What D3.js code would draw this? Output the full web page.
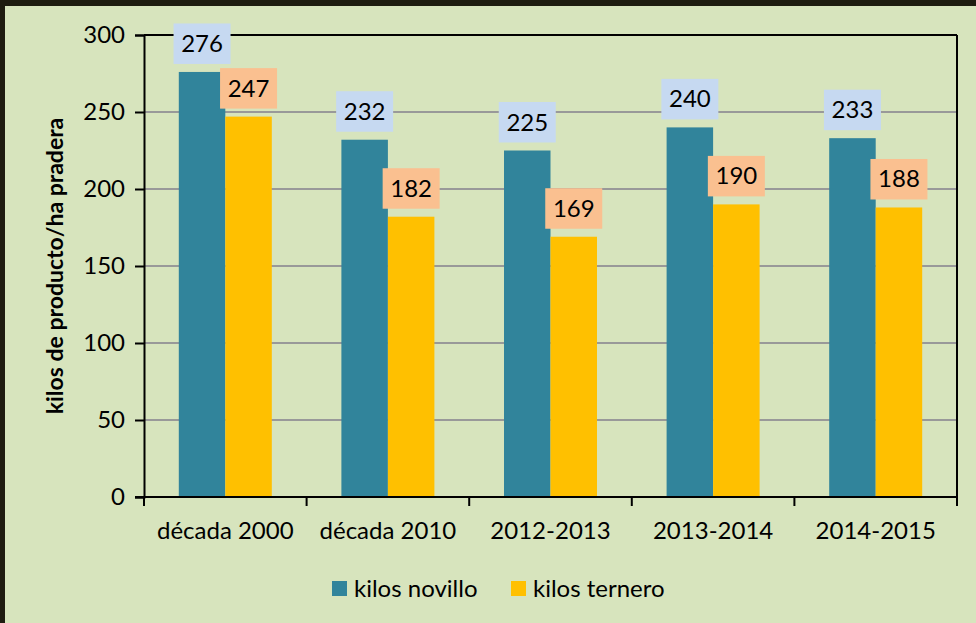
<!DOCTYPE html>
<html>
<head>
<meta charset="utf-8">
<script src="https://cdn.jsdelivr.net/npm/d3@7"></script>
<style>
  html, body { margin: 0; padding: 0; background: #d7e4bd; }
  svg { display: block; }
  text { font-family: Lato, "Open Sans", sans-serif; fill: #000; }
</style>
</head>
<body>
<svg id="chart" width="976" height="623"></svg>
<script>
// data
var categories = ["década 2000", "década 2010", "2012-2013", "2013-2014", "2014-2015"];
var seriesNames = ["kilos novillo", "kilos ternero"];
var novillo = [276, 232, 225, 240, 233];
var ternero = [247, 182, 169, 190, 188];
var yTicks = [0, 50, 100, 150, 200, 250, 300];

var colors = ["#31849b", "#ffc000"];
var labelFills = ["#c6d9f1", "#fac090"];

var svg = d3.select("#chart");
var W = 976, H = 623;

svg.append("rect").attr("width", W).attr("height", H).attr("fill", "#d7e4bd");
// dark frame only shows on top and left
svg.append("rect").attr("x", 0).attr("y", 0).attr("width", W).attr("height", 6).attr("fill", "#1e1c10");
svg.append("rect").attr("x", 0).attr("y", 0).attr("width", 5).attr("height", H).attr("fill", "#1e1c10");

var margin = {top: 35, right: 19, bottom: 126, left: 144};
var width = W - margin.left - margin.right;
var height = H - margin.top - margin.bottom;

var x = d3.scaleBand().domain(categories).range([0, width]).paddingInner(0).paddingOuter(0);
var x1 = d3.scaleBand().domain(seriesNames).range([0, 93]);
var y = d3.scaleLinear().domain([0, 300]).range([height, 0]);

var g = svg.append("g").attr("transform", "translate(" + margin.left + "," + margin.top + ")");

// gridlines
g.append("g").selectAll("line")
  .data(yTicks.filter(function(d) { return d > 0 && d < 300; }))
  .enter().append("line")
    .attr("x1", 0).attr("x2", width)
    .attr("y1", function(d) { return y(d); })
    .attr("y2", function(d) { return y(d); })
    .attr("stroke", "#999").attr("stroke-width", 2);

// plot frame top and right
g.append("line").attr("x1", 0).attr("x2", width).attr("y1", 0).attr("y2", 0)
  .attr("stroke", "#000").attr("stroke-width", 2);
g.append("line").attr("x1", width).attr("x2", width).attr("y1", 0).attr("y2", height)
  .attr("stroke", "#000").attr("stroke-width", 2);

var series = [novillo, ternero];
var rows = [];
categories.forEach(function(c, i) {
  seriesNames.forEach(function(s, j) {
    rows.push({cat: c, s: s, j: j, v: series[j][i]});
  });
});

function barX(d) {
  return x(d.cat) + (x.bandwidth() - 93) / 2 + x1(d.s);
}

g.append("g").selectAll("rect")
  .data(rows)
  .enter().append("rect")
    .attr("x", barX)
    .attr("y", function(d) { return y(d.v); })
    .attr("width", x1.bandwidth())
    .attr("height", function(d) { return height - y(d.v); })
    .attr("fill", function(d) { return colors[d.j]; });

// y axis
var yAxis = d3.axisLeft(y).tickValues(yTicks).tickSize(9).tickPadding(10);
var ya = g.append("g").call(yAxis);
ya.select(".domain").attr("stroke", "#000").attr("stroke-width", 2);
ya.selectAll(".tick line").attr("stroke", "#000").attr("stroke-width", 2);
ya.selectAll("text").style("font-size", "24px").style("fill", "#000");

// x axis, ticks at category boundaries
var xa = g.append("g").attr("transform", "translate(0," + height + ")");
xa.append("line").attr("x1", -9).attr("x2", width).attr("stroke", "#000").attr("stroke-width", 2);
xa.selectAll(".bt")
  .data(d3.range(categories.length + 1))
  .enter().append("line")
    .attr("x1", function(i) { return i * x.step(); })
    .attr("x2", function(i) { return i * x.step(); })
    .attr("y1", 0).attr("y2", 9)
    .attr("stroke", "#000").attr("stroke-width", 2);
xa.selectAll(".cl")
  .data(categories)
  .enter().append("text")
    .attr("x", function(d) { return x(d) + x.bandwidth() / 2; })
    .attr("y", 42)
    .attr("text-anchor", "middle")
    .style("font-size", "24px")
    .text(function(d) { return d; });

// data labels in boxes
var labels = g.append("g").selectAll("g")
  .data(rows)
  .enter().append("g")
    .attr("transform", function(d) {
      return "translate(" + (barX(d) + x1.bandwidth() / 2) + "," + (y(d.v) - 8) + ")";
    });
labels.append("rect")
  .attr("x", -28.5).attr("y", -40.5)
  .attr("width", 57).attr("height", 40.5)
  .attr("fill", function(d) { return labelFills[d.j]; });
labels.append("text")
  .attr("y", -12)
  .attr("text-anchor", "middle")
  .style("font-size", "24px")
  .text(function(d) { return d.v; });

// y axis title
svg.append("text")
  .attr("transform", "translate(63," + (margin.top + height / 2) + ") rotate(-90)")
  .attr("text-anchor", "middle")
  .style("font-size", "23px")
  .style("font-weight", "bold")
  .text("kilos de producto/ha pradera");

// legend
var legend = svg.append("g");
var legendX = [332, 511];
seriesNames.forEach(function(s, j) {
  legend.append("rect").attr("x", legendX[j]).attr("y", 581)
    .attr("width", 15).attr("height", 15).attr("fill", colors[j]);
  legend.append("text").attr("x", legendX[j] + 22).attr("y", 597)
    .style("font-size", "24px").text(s);
});
</script>
</body>
</html>
